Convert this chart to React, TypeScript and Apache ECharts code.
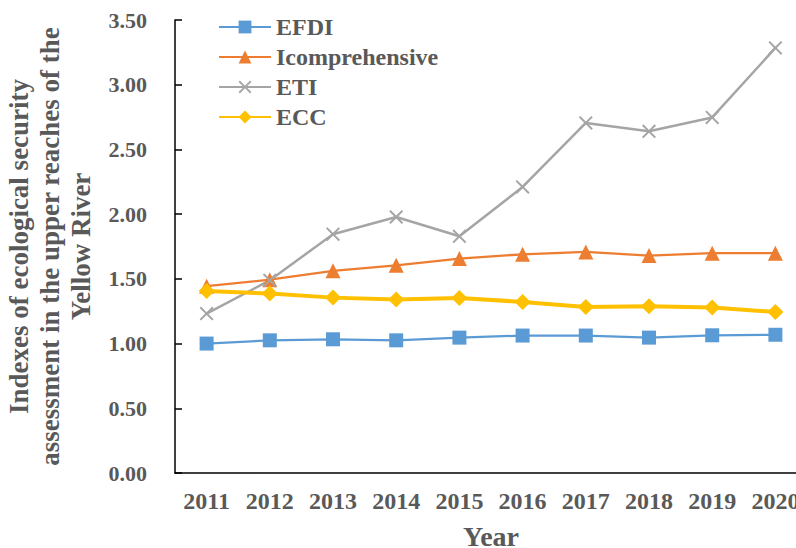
import React, { useEffect, useRef } from "react";
import * as echarts from "echarts";

const years = ["2011", "2012", "2013", "2014", "2015", "2016", "2017", "2018", "2019", "2020"];
const efdi = [1.0, 1.025, 1.033, 1.025, 1.046, 1.062, 1.062, 1.046, 1.064, 1.068];
const icomp = [1.443, 1.494, 1.562, 1.605, 1.657, 1.69, 1.708, 1.68, 1.698, 1.698];
const eti = [1.232, 1.489, 1.845, 1.978, 1.829, 2.21, 2.705, 2.64, 2.747, 3.284];
const ecc = [1.407, 1.386, 1.355, 1.34, 1.352, 1.322, 1.283, 1.288, 1.278, 1.244];

const FONT = '"Liberation Serif", "Times New Roman", serif';
const TXT = "#595959";
const X_SYMBOL = "path://M0,1L1,0L5,4L9,0L10,1L6,5L10,9L9,10L5,6L1,10L0,9L4,5Z";

export default function App() {
  const ref = useRef<HTMLDivElement>(null);
  useEffect(() => {
    if (!ref.current) return;
    const chart = echarts.init(ref.current, undefined, { renderer: "svg" });
    chart.setOption({
      animation: false,
      backgroundColor: "#ffffff",
      grid: { left: 175, top: 20, bottom: 75, right: -11, containLabel: false, outerBoundsMode: "none" },
      legend: {
        orient: "vertical",
        left: 213,
        top: 10,
        itemWidth: 52,
        itemHeight: 16,
        itemGap: 6,
        textStyle: { fontFamily: FONT, fontWeight: "bold", fontSize: 24, color: TXT },
        data: ["EFDI", "Icomprehensive", "ETI", "ECC"],
      },
      xAxis: {
        type: "category",
        data: years,
        boundaryGap: true,
        axisLine: { lineStyle: { color: "#000", width: 1.5 } },
        axisTick: { inside: true, length: 6, lineStyle: { color: "#000", width: 1.5 } },
        axisLabel: { fontFamily: FONT, fontWeight: "bold", fontSize: 24, color: TXT, margin: 16 },
        name: "Year",
        nameLocation: "middle",
        nameGap: 49,
        nameTextStyle: { fontFamily: FONT, fontWeight: "bold", fontSize: 28, color: TXT },
      },
      yAxis: {
        type: "value",
        min: 0,
        max: 3.5,
        interval: 0.5,
        splitLine: { show: false },
        axisLine: { show: true, lineStyle: { color: "#000", width: 1.5 } },
        axisTick: { show: true, inside: true, length: 7, lineStyle: { color: "#000", width: 1.5 } },
        axisLabel: {
          fontFamily: FONT,
          fontWeight: "bold",
          fontSize: 22,
          color: TXT,
          margin: 28,
          formatter: (v: number) => v.toFixed(2),
        },
        name: "Indexes of ecological security\nassessment in the upper reaches of the\nYellow River",
        nameLocation: "middle",
        nameRotate: 90,
        nameGap: 79,
        nameTextStyle: { fontFamily: FONT, fontWeight: "bold", fontSize: 27, color: TXT, lineHeight: 31, align: "center" },
      },
      series: [
        {
          name: "EFDI",
          type: "line",
          data: efdi,
          symbol: "rect",
          symbolSize: 14,
          lineStyle: { color: "#5B9BD5", width: 2.25 },
          itemStyle: { color: "#5B9BD5" },
        },
        {
          name: "Icomprehensive",
          type: "line",
          data: icomp,
          symbol: "triangle",
          symbolSize: 15,
          lineStyle: { color: "#ED7D31", width: 2.25 },
          itemStyle: { color: "#ED7D31" },
        },
        {
          name: "ETI",
          type: "line",
          data: eti,
          symbol: X_SYMBOL,
          symbolSize: 14,
          lineStyle: { color: "#A5A5A5", width: 2.5 },
          itemStyle: { color: "#A5A5A5" },
        },
        {
          name: "ECC",
          type: "line",
          data: ecc,
          symbol: "diamond",
          symbolSize: 16,
          lineStyle: { color: "#FFC000", width: 4 },
          itemStyle: { color: "#FFC000" },
        },
      ],
    });
    return () => chart.dispose();
  }, []);
  return <div ref={ref} style={{ position: "fixed", left: 0, top: 0, width: 796, height: 548 }} />;
}
